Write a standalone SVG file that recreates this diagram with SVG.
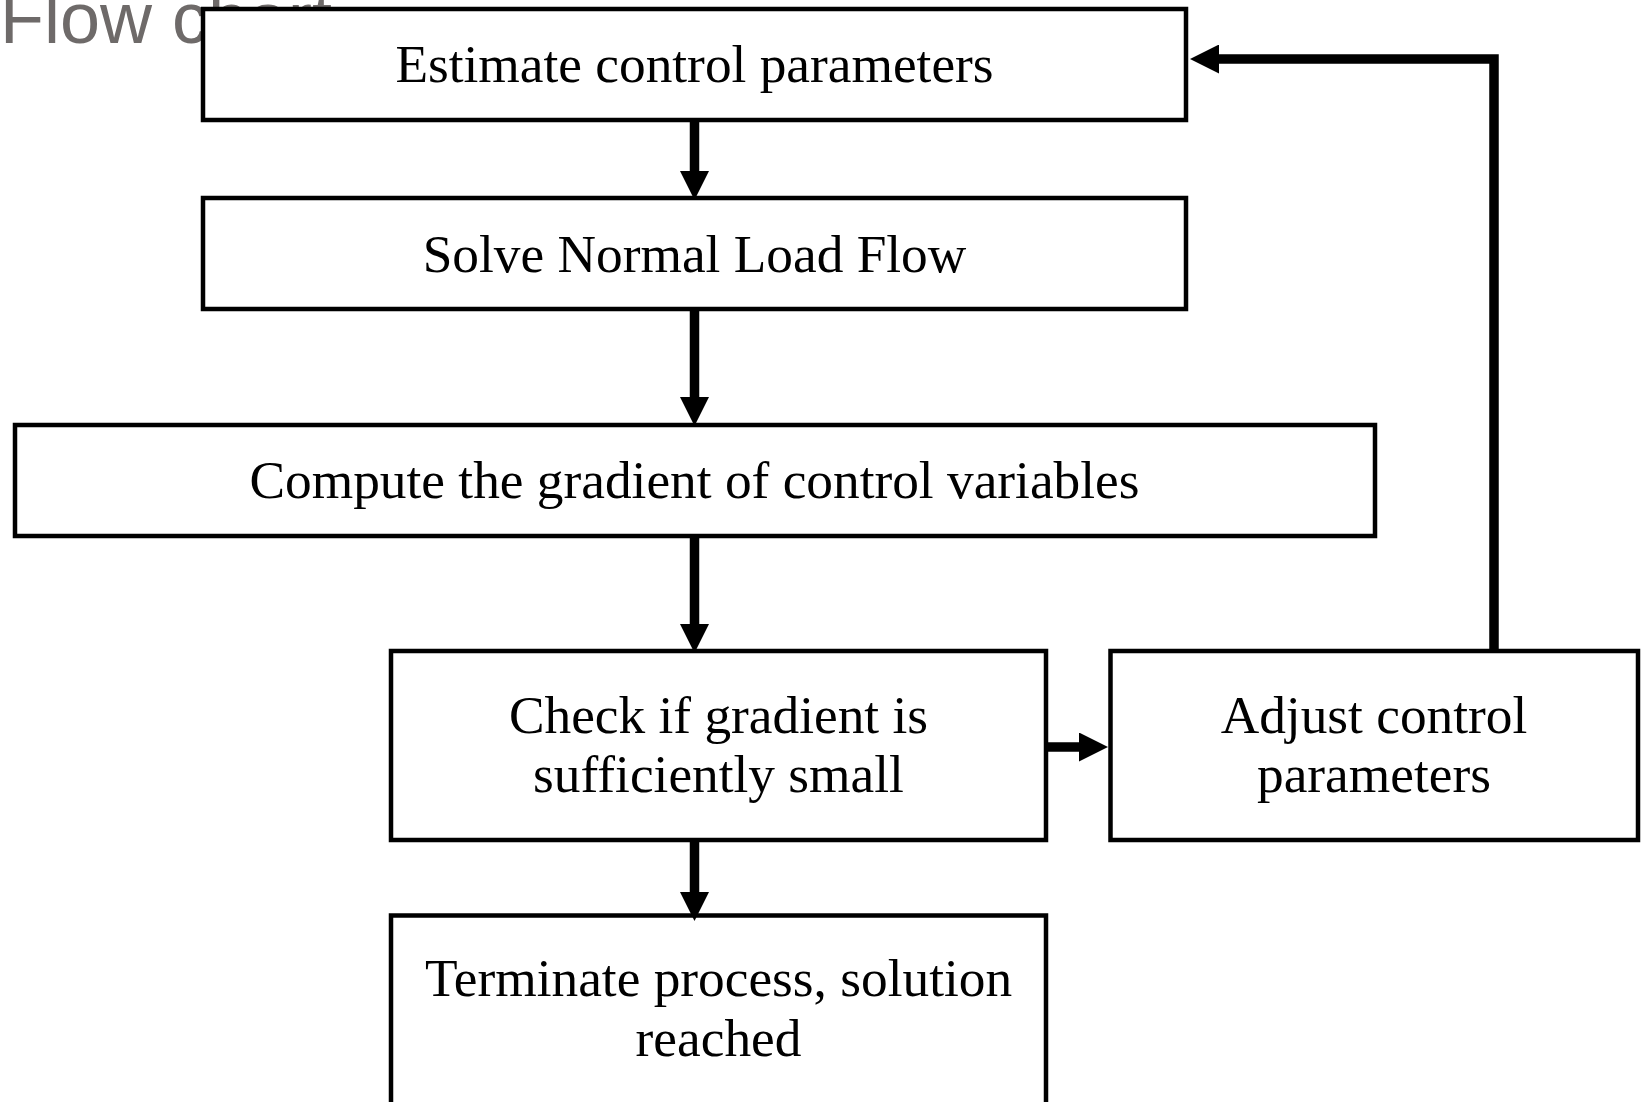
<svg xmlns="http://www.w3.org/2000/svg" width="1647" height="1102" viewBox="0 0 1647 1102">
  <style>
    .box { fill: #ffffff; stroke: #000000; stroke-width: 4.5; }
    .lbl { font-family: "Liberation Serif", "Times New Roman", serif; font-size: 53.33px; fill: #000000; text-anchor: middle; }
    .title { font-family: "Liberation Sans", Arial, sans-serif; font-size: 72px; fill: #6e6a69; }
    .conn { fill: none; stroke: #000000; stroke-width: 9.5; stroke-linejoin: miter; stroke-linecap: butt; }
  </style>
  <defs>
    <marker id="arrow" markerUnits="userSpaceOnUse" viewBox="0 0 29 29" markerWidth="29" markerHeight="29" refX="1" refY="14.5" orient="auto">
      <path d="M0,0 L29,14.5 L0,29 Z" fill="#000000"/>
    </marker>
  </defs>
  <rect width="1647" height="1102" fill="#ffffff"/>
  <text class="title" x="0" y="43">Flow chart</text>

  <g id="n1">
    <rect class="box" x="203" y="9" width="983" height="111"/>
    <text class="lbl" x="694.5" y="82">Estimate control parameters</text>
  </g>
  <g id="n2">
    <rect class="box" x="203" y="198" width="983" height="111"/>
    <text class="lbl" x="694.5" y="272">Solve Normal Load Flow</text>
  </g>
  <g id="n3">
    <rect class="box" x="15" y="425" width="1360" height="111"/>
    <text class="lbl" x="694.5" y="498">Compute the gradient of control variables</text>
  </g>
  <g id="n4">
    <rect class="box" x="391" y="651" width="655" height="189"/>
    <text class="lbl" x="718.5" y="733">Check if gradient is</text>
    <text class="lbl" x="718.5" y="792">sufficiently small</text>
  </g>
  <g id="n5">
    <rect class="box" x="1110.5" y="651" width="527.5" height="189"/>
    <text class="lbl" x="1374" y="733">Adjust control</text>
    <text class="lbl" x="1374" y="792">parameters</text>
  </g>
  <g id="n6">
    <rect class="box" x="391" y="915.5" width="655" height="200"/>
    <text class="lbl" x="718.5" y="996">Terminate process, solution</text>
    <text class="lbl" x="718.5" y="1056">reached</text>
  </g>

  <g id="connectors">
    <path class="conn" d="M694.5,122 L694.5,172" marker-end="url(#arrow)"/>
    <path class="conn" d="M694.5,311 L694.5,398" marker-end="url(#arrow)"/>
    <path class="conn" d="M694.5,538 L694.5,625" marker-end="url(#arrow)"/>
    <path class="conn" d="M694.5,842 L694.5,893" marker-end="url(#arrow)"/>
    <path class="conn" d="M1048,747 L1080,747" marker-end="url(#arrow)"/>
    <path class="conn" d="M1494,649 L1494,59 L1218,59" marker-end="url(#arrow)"/>
  </g>
</svg>
